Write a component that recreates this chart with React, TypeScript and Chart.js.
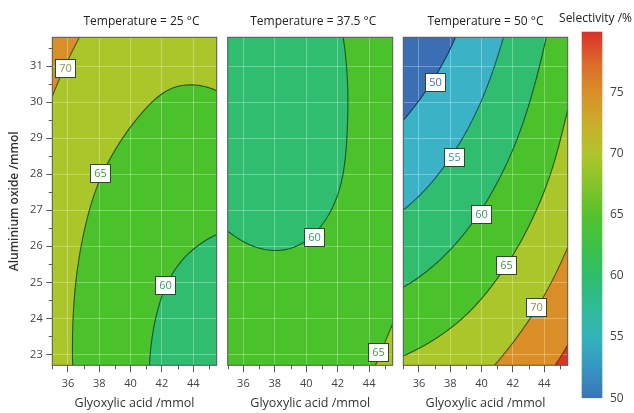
import React, { useEffect, useRef } from "react";
import { Chart, registerables } from "chart.js";

Chart.register(...registerables);

const FONT = "'Open Sans', 'DejaVu Sans', sans-serif";

// ---------- data ----------
// grid nodes (glyoxylic acid /mmol along x, aluminium oxide /mmol along y)
const X_NODES = [35, 37.625, 40.25, 42.875, 45.5];
const Y_NODES = [22.7, 24.975, 27.25, 29.525, 31.8];

// selectivity (%) read at the grid nodes; rows = Y_NODES (ascending), columns = X_NODES
const SELECTIVITY_25 = [
  [66.87, 63.33, 60.72, 59.04, 58.3],
  [67.0, 63.69, 61.31, 59.75, 59.0],
  [67.98, 64.91, 62.77, 61.57, 60.9],
  [69.45, 66.98, 65.08, 63.8, 63.8],
  [71.7, 69.3, 67.9, 67.2, 67.5],
];
const SELECTIVITY_37_5 = [
  [64.74, 63.9, 63.8, 63.8, 66.4],
  [61.51, 60.91, 61.07, 61.97, 63.9],
  [59.33, 58.98, 59.39, 60.54, 62.44],
  [58.21, 58.11, 58.76, 60.16, 62.31],
  [58.14, 58.29, 59.19, 60.35, 63.24],
];
const SELECTIVITY_50 = [
  [65.72, 67.31, 69.4, 72.53, 76.16],
  [59.73, 61.72, 64.38, 67.72, 71.73],
  [54.48, 56.85, 59.9, 63.62, 68.02],
  [49.95, 52.71, 56.14, 60.26, 65.3],
  [46.14, 49.0, 53.11, 57.61, 62.79],
];

const CONTOUR_LEVELS = [50, 55, 60, 65, 70, 75];
const BAND_COLORS = ["#3a6fb4", "#3bb2c6", "#30bd70", "#4bc22b", "#aac62b", "#d98e28", "#dc3526"];
const LINE_COLORS = ["#1a3658", "#1a5560", "#185433", "#285416", "#555212", "#633510"];
const LABEL_TEXT_COLORS = ["#4a70a6", "#3a97a2", "#3a9868", "#4a983a", "#86994a", "#a06a2a"];

// contour label positions
const LABEL_25_X = [35.81, 38.04, 42.21];
const LABEL_25_Y = [30.94, 28.03, 24.94];
const LABEL_25_V = [70, 65, 60];
const LABEL_37_5_X = [40.46, 44.59];
const LABEL_37_5_Y = [26.25, 23.07];
const LABEL_37_5_V = [60, 65];
const LABEL_50_X = [37.0, 38.24, 39.99, 41.55, 43.47];
const LABEL_50_Y = [30.57, 28.49, 26.91, 25.47, 24.32];
const LABEL_50_V = [50, 55, 60, 65, 70];

const X_MAJOR_TICKS = [36, 38, 40, 42, 44];
const X_MINOR_TICKS = [35, 37, 39, 41, 43, 45];
const Y_MAJOR_TICKS = [23, 24, 25, 26, 27, 28, 29, 30, 31];
const Y_MINOR_TICKS = [23.5, 24.5, 25.5, 26.5, 27.5, 28.5, 29.5, 30.5, 31.5];

const COLORBAR_TICKS = [50, 55, 60, 65, 70, 75];
const COLORBAR_STOP_VALUES = [50, 52.5, 55, 57.5, 60, 62.5, 65, 67.5, 70, 72.5, 75, 77.5, 80];
const COLORBAR_STOP_COLORS = [
  "#3b74b8", "#3796c2", "#34b3bb", "#2fbb95", "#2fbd6c", "#3ec146", "#55c22c",
  "#85c42a", "#b0c52a", "#c9ad2a", "#d98f2a", "#dc6a2a", "#d9302a",
];

const TITLES = ["Temperature = 25 °C", "Temperature = 37.5 °C", "Temperature = 50 °C"];

// ---------- layout ----------
const PANELS = [
  { left: 0, width: 222, padL: 0, padR: 5.3, showY: true, titleDx: 7, grid: SELECTIVITY_25, lx: LABEL_25_X, ly: LABEL_25_Y, lv: LABEL_25_V },
  { left: 222, width: 176, padL: 5.7, padR: 5.3, showY: false, titleDx: 3, grid: SELECTIVITY_37_5, lx: LABEL_37_5_X, ly: LABEL_37_5_Y, lv: LABEL_37_5_V },
  { left: 398, width: 176, padL: 5.3, padR: 6.3, showY: false, titleDx: 0, grid: SELECTIVITY_50, lx: LABEL_50_X, ly: LABEL_50_Y, lv: LABEL_50_V },
];
const PLOT_TOP = 37.3;
const X_AXIS_H = 47.7;
const Y_AXIS_W = 52.3;
const GRID_COLOR = "rgba(255,255,255,0.3)";

// ---------- helpers ----------
function hexToRgb(h: string) {
  const n = parseInt(h.slice(1), 16);
  return [(n >> 16) & 255, (n >> 8) & 255, n & 255];
}
function extendList(v: number[]): number[] {
  const n = v.length;
  return [3 * v[0] - 3 * v[1] + v[2], ...v, 3 * v[n - 1] - 3 * v[n - 2] + v[n - 3]];
}
function extendGrid(g: number[][]): number[][] {
  const rows = g.map(extendList);
  const ncol = rows[0].length;
  const cols: number[][] = [];
  for (let c = 0; c < ncol; c++) cols.push(extendList(rows.map((r) => r[c])));
  const out: number[][] = [];
  for (let r = 0; r < rows.length + 2; r++) out.push(cols.map((col) => col[r]));
  return out;
}
function catmull(p0: number, p1: number, p2: number, p3: number, s: number) {
  return 0.5 * (2 * p1 + (-p0 + p2) * s + (2 * p0 - 5 * p1 + 4 * p2 - p3) * s * s + (-p0 + 3 * p1 - 3 * p2 + p3) * s * s * s);
}
function makeField(grid: number[][]) {
  const ext = extendGrid(grid);
  const nx = X_NODES.length;
  const ny = Y_NODES.length;
  const dx = X_NODES[1] - X_NODES[0];
  const dy = Y_NODES[1] - Y_NODES[0];
  return (x: number, y: number) => {
    const tx = (x - X_NODES[0]) / dx;
    const ty = (y - Y_NODES[0]) / dy;
    const i = Math.min(Math.max(Math.floor(tx), 0), nx - 2);
    const j = Math.min(Math.max(Math.floor(ty), 0), ny - 2);
    const sx = tx - i;
    const sy = ty - j;
    const r: number[] = [];
    for (let k = 0; k < 4; k++) {
      const row = ext[j + k];
      r.push(catmull(row[i], row[i + 1], row[i + 2], row[i + 3], sx));
    }
    return catmull(r[0], r[1], r[2], r[3], sy);
  };
}

function panelConfig(spec: any, index: number): any {
  const field = makeField(spec.grid);
  const bandRgb = BAND_COLORS.map(hexToRgb);
  const plugin = {
    id: "contourPanel" + index,
    beforeDraw(chart: any) {
      const { ctx, chartArea: a, scales } = chart;
      const xs = scales.x;
      const ys = scales.y;
      const x0 = Math.floor(a.left);
      const y0 = Math.floor(a.top);
      const w = Math.ceil(a.right) - x0;
      const h = Math.ceil(a.bottom) - y0;
      const off = document.createElement("canvas");
      off.width = w;
      off.height = h;
      const octx = off.getContext("2d")!;
      const img = octx.createImageData(w, h);
      for (let py = 0; py < h; py++) {
        const yv = ys.getValueForPixel(y0 + py + 0.5);
        for (let px = 0; px < w; px++) {
          const xv = xs.getValueForPixel(x0 + px + 0.5);
          const v = field(xv, yv);
          let b = 0;
          while (b < CONTOUR_LEVELS.length && v >= CONTOUR_LEVELS[b]) b++;
          const c = bandRgb[b];
          const k = (py * w + px) * 4;
          img.data[k] = c[0];
          img.data[k + 1] = c[1];
          img.data[k + 2] = c[2];
          img.data[k + 3] = 255;
        }
      }
      octx.putImageData(img, 0, 0);
      ctx.save();
      ctx.beginPath();
      ctx.rect(a.left, a.top, a.width, a.height);
      ctx.clip();
      ctx.drawImage(off, x0, y0);
      ctx.restore();
    },
    afterDatasetsDraw(chart: any) {
      const { ctx, chartArea: a, scales } = chart;
      const xs = scales.x;
      const ys = scales.y;
      const step = 1.5;
      const nx = Math.ceil(a.width / step);
      const ny = Math.ceil(a.height / step);
      const gx: number[] = [];
      const gy: number[] = [];
      for (let i = 0; i <= nx; i++) gx.push(a.left + (a.width * i) / nx);
      for (let j = 0; j <= ny; j++) gy.push(a.top + (a.height * j) / ny);
      const vals: number[][] = [];
      for (let j = 0; j <= ny; j++) {
        const yv = ys.getValueForPixel(gy[j]);
        const row: number[] = [];
        for (let i = 0; i <= nx; i++) row.push(field(xs.getValueForPixel(gx[i]), yv));
        vals.push(row);
      }
      ctx.save();
      ctx.beginPath();
      ctx.rect(a.left, a.top, a.width, a.height);
      ctx.clip();
      ctx.lineWidth = 1.1;
      CONTOUR_LEVELS.forEach((L, li) => {
        ctx.beginPath();
        for (let j = 0; j < ny; j++) {
          for (let i = 0; i < nx; i++) {
            const c = [
              [gx[i], gy[j], vals[j][i]],
              [gx[i + 1], gy[j], vals[j][i + 1]],
              [gx[i + 1], gy[j + 1], vals[j + 1][i + 1]],
              [gx[i], gy[j + 1], vals[j + 1][i]],
            ];
            const pts: number[][] = [];
            for (let e = 0; e < 4; e++) {
              const p = c[e];
              const q = c[(e + 1) % 4];
              if ((p[2] < L) !== (q[2] < L)) {
                const t = (L - p[2]) / (q[2] - p[2]);
                pts.push([p[0] + t * (q[0] - p[0]), p[1] + t * (q[1] - p[1])]);
              }
            }
            if (pts.length >= 2) {
              ctx.moveTo(pts[0][0], pts[0][1]);
              ctx.lineTo(pts[1][0], pts[1][1]);
            }
            if (pts.length === 4) {
              ctx.moveTo(pts[2][0], pts[2][1]);
              ctx.lineTo(pts[3][0], pts[3][1]);
            }
          }
        }
        ctx.strokeStyle = LINE_COLORS[li];
        ctx.stroke();
      });
      ctx.restore();

      // contour labels
      const meta = chart.getDatasetMeta(0);
      ctx.save();
      ctx.font = `11px ${FONT}`;
      ctx.textAlign = "center";
      ctx.textBaseline = "middle";
      meta.data.forEach((el: any, idx: number) => {
        const v = spec.lv[idx];
        const bw = 20;
        const bh = 18;
        const rx = Math.round(el.x - bw / 2) + 0.5;
        const ry = Math.round(el.y - bh / 2) + 0.5;
        ctx.fillStyle = "#ffffff";
        ctx.fillRect(rx, ry, bw, bh);
        ctx.strokeStyle = "#2a4a2a";
        ctx.lineWidth = 1;
        ctx.strokeRect(rx, ry, bw, bh);
        ctx.fillStyle = LABEL_TEXT_COLORS[CONTOUR_LEVELS.indexOf(v)];
        ctx.fillText(String(v), rx + bw / 2, ry + bh / 2 + 0.5);
      });
      ctx.restore();
    },
    afterDraw(chart: any) {
      const { ctx, chartArea: a, scales } = chart;
      ctx.save();
      ctx.strokeStyle = "#555";
      ctx.lineWidth = 1;
      ctx.strokeRect(a.left, a.top, a.width, a.height);
      ctx.beginPath();
      X_MINOR_TICKS.forEach((v) => {
        const px = Math.round(scales.x.getPixelForValue(v)) + 0.5;
        ctx.moveTo(px, a.bottom);
        ctx.lineTo(px, a.bottom + 4);
      });
      if (spec.showY) {
        Y_MINOR_TICKS.forEach((v) => {
          const py = Math.round(scales.y.getPixelForValue(v)) + 0.5;
          ctx.moveTo(a.left - 3.5, py);
          ctx.lineTo(a.left, py);
        });
      }
      ctx.stroke();
      ctx.fillStyle = "#222";
      ctx.font = `12px ${FONT}`;
      ctx.textAlign = "center";
      ctx.textBaseline = "middle";
      ctx.fillText(TITLES[index], (a.left + a.right) / 2 + spec.titleDx, 21.5);
      ctx.restore();
    },
  };

  return {
    type: "scatter",
    data: {
      datasets: [
        {
          data: spec.lx.map((x: number, i: number) => ({ x, y: spec.ly[i] })),
          pointRadius: 0,
          pointHoverRadius: 0,
          showLine: false,
        },
      ],
    },
    options: {
      responsive: false,
      animation: false,
      events: [],
      layout: { padding: { left: spec.padL, right: spec.padR, top: PLOT_TOP, bottom: 0 }, autoPadding: false },
      plugins: { legend: { display: false }, tooltip: { enabled: false }, title: { display: false } },
      scales: {
        x: {
          type: "linear",
          min: 35,
          max: 45.5,
          afterBuildTicks: (s: any) => {
            s.ticks = X_MAJOR_TICKS.map((v) => ({ value: v }));
          },
          afterFit: (s: any) => {
            s.height = X_AXIS_H;
          },
          grid: { color: GRID_COLOR, tickColor: "#555", tickLength: 7, drawTicks: true },
          border: { display: false },
          ticks: { font: { size: 11, family: FONT }, color: "#444", padding: 5, maxRotation: 0, autoSkip: false },
          title: {
            display: true,
            text: "Glyoxylic acid /mmol",
            font: { size: 12.5, family: FONT },
            color: "#333",
            padding: { top: 0, bottom: 1.6 },
          },
        },
        y: {
          type: "linear",
          min: 22.7,
          max: 31.8,
          afterBuildTicks: (s: any) => {
            s.ticks = Y_MAJOR_TICKS.map((v) => ({ value: v }));
          },
          afterFit: (s: any) => {
            s.width = spec.showY ? Y_AXIS_W : 0;
          },
          grid: { color: GRID_COLOR, tickColor: "#555", tickLength: 6, drawTicks: spec.showY },
          border: { display: false },
          ticks: { display: spec.showY, font: { size: 11, family: FONT }, color: "#444", padding: 3.6 },
          title: {
            display: spec.showY,
            text: "Aluminium oxide /mmol",
            font: { size: 12, family: FONT, weight: "600" },
            color: "#333",
            padding: { top: 7.8, bottom: 0 },
          },
        },
      },
    },
    plugins: [plugin],
  };
}

function colorbarConfig(): any {
  const plugin = {
    id: "colorbar",
    beforeDraw(chart: any) {
      const { ctx, chartArea: a, scales } = chart;
      const ys = scales.y;
      const p0 = ys.getPixelForValue(COLORBAR_STOP_VALUES[0]);
      const p1 = ys.getPixelForValue(COLORBAR_STOP_VALUES[COLORBAR_STOP_VALUES.length - 1]);
      const g = ctx.createLinearGradient(0, p0, 0, p1);
      COLORBAR_STOP_VALUES.forEach((v, i) => {
        g.addColorStop((ys.getPixelForValue(v) - p0) / (p1 - p0), COLORBAR_STOP_COLORS[i]);
      });
      ctx.save();
      ctx.fillStyle = g;
      ctx.fillRect(a.left, a.top, a.width, a.height);
      ctx.restore();
    },
    afterDraw(chart: any) {
      const { ctx, chartArea: a } = chart;
      ctx.save();
      ctx.fillStyle = "#222";
      ctx.font = `12px ${FONT}`;
      ctx.textAlign = "center";
      ctx.textBaseline = "middle";
      ctx.fillText("Selectivity /%", (a.left + a.right) / 2 + 3.5, 18.5);
      ctx.restore();
    },
  };
  return {
    type: "scatter",
    data: { datasets: [] },
    options: {
      responsive: false,
      animation: false,
      events: [],
      layout: { padding: { left: 36.7, right: 0, top: 31.7, bottom: 11.3 }, autoPadding: false },
      plugins: { legend: { display: false }, tooltip: { enabled: false } },
      scales: {
        x: { type: "linear", display: false },
        y: {
          type: "linear",
          position: "right",
          min: 50,
          max: 80,
          afterBuildTicks: (s: any) => {
            s.ticks = COLORBAR_TICKS.map((v) => ({ value: v }));
          },
          afterFit: (s: any) => {
            s.width = 31.7;
          },
          grid: { display: false, drawTicks: false },
          border: { display: false },
          ticks: { font: { size: 12, family: FONT }, color: "#444", padding: 7.7 },
        },
      },
    },
    plugins: [plugin],
  };
}

export default function App() {
  const r0 = useRef<HTMLCanvasElement>(null);
  const r1 = useRef<HTMLCanvasElement>(null);
  const r2 = useRef<HTMLCanvasElement>(null);
  const barRef = useRef<HTMLCanvasElement>(null);
  const refs = [r0, r1, r2];

  useEffect(() => {
    const charts: Chart[] = [];
    PANELS.forEach((p, i) => {
      charts.push(new Chart(refs[i].current as HTMLCanvasElement, panelConfig(p, i)));
    });
    charts.push(new Chart(barRef.current as HTMLCanvasElement, colorbarConfig()));
    return () => charts.forEach((c) => c.destroy());
  }, []);

  return (
    <div style={{ position: "absolute", left: 0, top: 0, width: 634, height: 413, background: "#ffffff", overflow: "hidden" }}>
      {PANELS.map((p, i) => (
        <canvas
          key={i}
          ref={refs[i]}
          width={p.width}
          height={413}
          style={{ position: "absolute", left: p.left, top: 0, width: p.width, height: 413 }}
        />
      ))}
      <canvas ref={barRef} width={89} height={413} style={{ position: "absolute", left: 545, top: 0, width: 89, height: 413 }} />
    </div>
  );
}
